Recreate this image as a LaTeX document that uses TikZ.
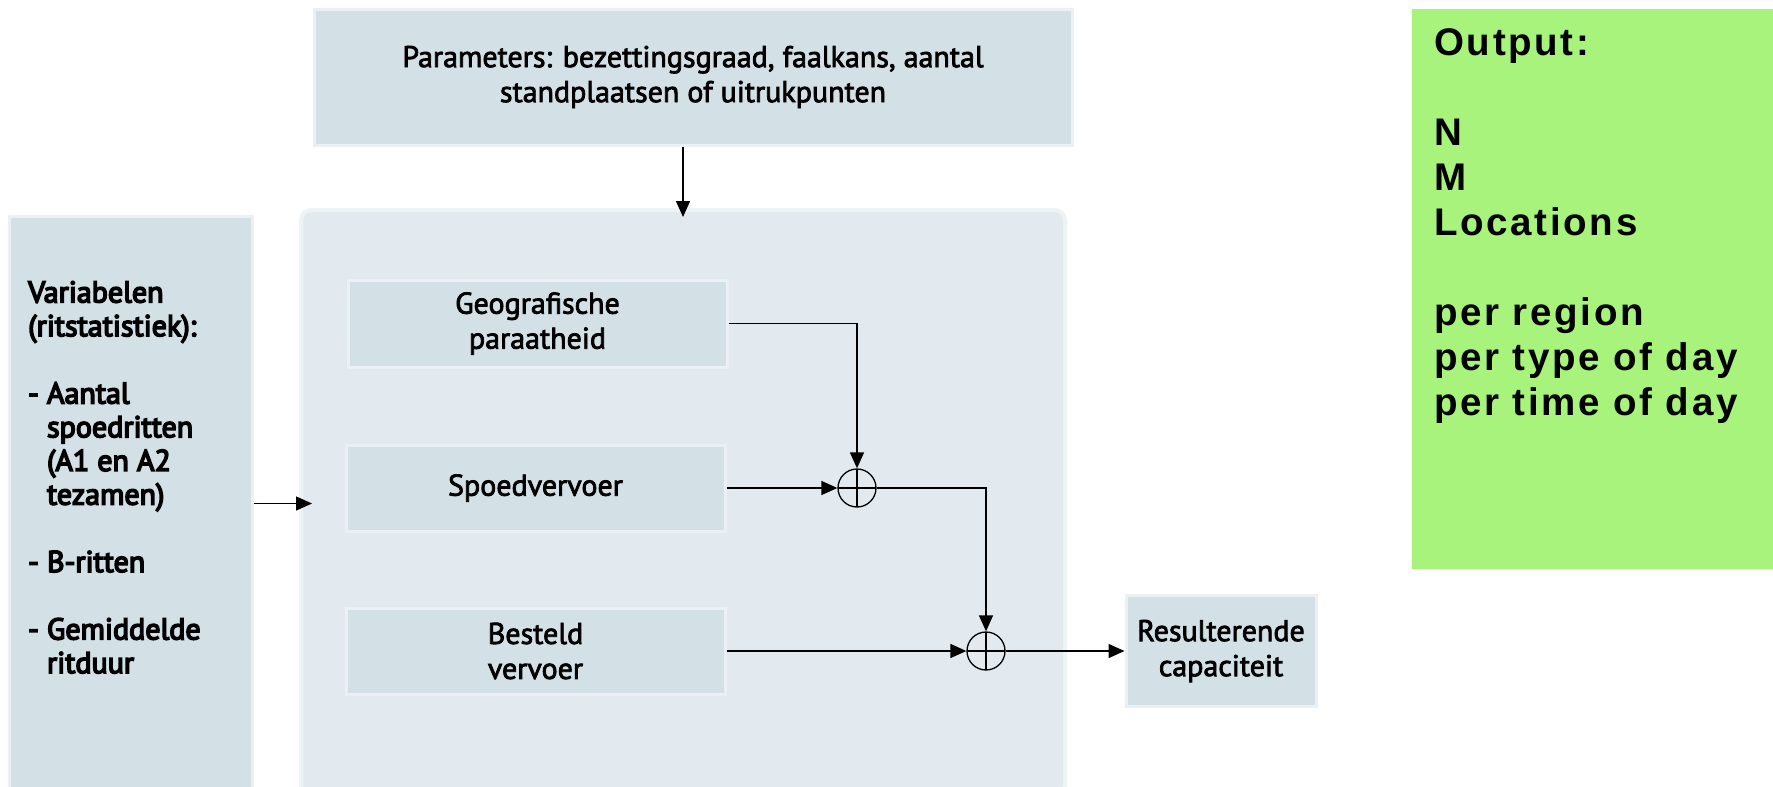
\documentclass[tikz,border=0pt]{standalone}
\usepackage{fontspec}
\setmainfont{PT Sans}
\newfontfamily\boxfont[FakeBold=2.5]{PT Sans}
\newfontfamily\leftfont[FakeBold=5]{PT Sans}
\newfontfamily\greenfont[LetterSpace=7]{Liberation Sans}
\usetikzlibrary{arrows.meta}
\definecolor{boxfill}{HTML}{D3E0E6}
\definecolor{boxedge}{HTML}{EAF0F3}
\definecolor{contfill}{HTML}{E2EAF0}
\definecolor{contedge}{HTML}{EEF3F6}
\definecolor{outgreen}{HTML}{A7F37B}
\tikzset{
  bluebox/.style={rectangle, fill=boxfill, draw=boxedge, line width=3pt, inner sep=0pt, align=center,
    font=\boxfont\fontsize{30}{35}\selectfont},
  arr/.style={line width=1.5pt, -{Triangle[length=16pt,width=14pt]}},
  sumnode/.style={circle, draw, line width=1.3pt, minimum size=38pt, inner sep=0pt,
    path picture={\draw[line width=1.3pt] (path picture bounding box.north) -- (path picture bounding box.south)
      (path picture bounding box.west) -- (path picture bounding box.east);}}
}
\begin{document}
\begin{tikzpicture}[x=1pt,y=-1pt]
\useasboundingbox (0,0) rectangle (1773,787);
% container
\node[rectangle, rounded corners=10pt, fill=contfill, draw=contedge, line width=4pt,
  minimum width=764pt, minimum height=586pt, inner sep=0pt] (cont) at (683,503) {};
% left variables box
\node[bluebox, minimum width=243pt, minimum height=575pt] (left) at (130.5,503.5) {};
\node[anchor=north west, inner sep=0pt, align=left, font=\leftfont\fontsize{30}{33.7}\selectfont] (lefttext) at (28,281)
 {Variabelen\\(ritstatistiek):\\[33.7pt]- Aantal\\\hphantom{- }spoedritten\\\hphantom{- }(A1 en A2\\\hphantom{- }tezamen)\\[33.7pt]- B-ritten\\[33.7pt]- Gemiddelde\\\hphantom{- }ritduur};
% parameters box
\node[bluebox, minimum width=758pt, minimum height=136pt] (params) at (693,77)
 {Parameters: bezettingsgraad, faalkans, aantal\\standplaatsen of uitrukpunten};
% inner boxes
\node[bluebox, minimum width=379pt, minimum height=87pt] (geo) at (537.5,323.5) {Geografische\\paraatheid};
\node[bluebox, minimum width=379pt, minimum height=86pt] (spoed) at (535.5,488) {Spoedvervoer};
\node[bluebox, minimum width=379pt, minimum height=86pt] (best) at (535.5,651) {Besteld\\vervoer};
\node[bluebox, minimum width=190pt, minimum height=111pt] (res) at (1221,651) {Resulterende\\capaciteit};
% sum nodes
\node[sumnode] (s1) at (857,488) {};
\node[sumnode] (s2) at (986,651) {};
% output box
\node[rectangle, fill=outgreen, minimum width=364pt, minimum height=560pt, inner sep=0pt] (out) at (1594,289) {};
\node[anchor=north west, inner sep=0pt, align=left, font=\greenfont\bfseries\fontsize{38.5}{45}\selectfont] (outtext) at (1434,28)
 {Output:\\[45pt]N\\M\\Locations\\[45pt]per region\\per type of day\\per time of day};
% connectors
\coordinate (cin) at (312,503.5);
\draw[arr] (left.east) -- (cin);
\coordinate (ptop) at (683,217);
\draw[arr] (params.south -| ptop) -- (ptop);
\draw[arr] (geo.east) -| (s1);
\draw[arr] (spoed.east) -- (s1);
\draw[arr] (s1) -| (s2);
\draw[arr] (best.east) -- (s2);
\draw[arr] (s2) -- (res);
\end{tikzpicture}
\end{document}
